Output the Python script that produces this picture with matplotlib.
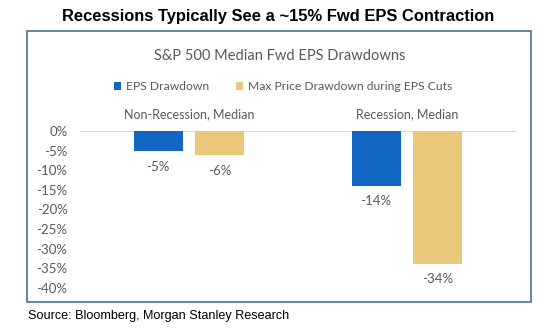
import matplotlib
matplotlib.use("Agg")
import matplotlib.pyplot as plt
from matplotlib.patches import Rectangle
import numpy as np

categories = ["Non-Recession, Median", "Recession, Median"]
series_names = ["EPS Drawdown", "Max Price Drawdown during EPS Cuts"]
eps_drawdown = [-5.2, -14.0]
max_price_drawdown = [-6.2, -33.8]
yticks = [0, -5, -10, -15, -20, -25, -30, -35, -40]

BLUE = "#1267C4"
TAN = "#E9C77B"
GREY = "#595959"
BODY_FONT = ["Lato", "DejaVu Sans"]

W, H = 558, 331
fig = plt.figure(figsize=(W / 100, H / 100), dpi=100)
fig.patch.set_facecolor("white")


def fx(px):
    return px / W


def fy(py):
    return 1 - py / H


# framed panel around the chart
fig.patches.append(Rectangle((fx(27), fy(302)), fx(531) - fx(27), fy(31) - fy(302),
                             transform=fig.transFigure, fill=False,
                             edgecolor="#4F7FA6", linewidth=1.3))

fig.text(fx(278), fy(17), "Recessions Typically See a ~15% Fwd EPS Contraction",
         ha="center", va="center", fontsize=11.9, fontweight="bold",
         family=["Liberation Sans", "DejaVu Sans"], color="black")
fig.text(fx(280), fy(56), "S&P 500 Median Fwd EPS Drawdowns", ha="center", va="center",
         fontsize=10.5, family=BODY_FONT, color=GREY)
fig.text(fx(28), fy(316), "Source: Bloomberg, Morgan Stanley Research", ha="left",
         va="center", fontsize=9.1, family=["Liberation Sans", "DejaVu Sans"], color="black")

ax = fig.add_axes([fx(80), fy(288), fx(516) - fx(80), fy(131) - fy(288)])
x = np.arange(len(categories)) + 0.5
width = 0.225
offset = 0.142
b1 = ax.bar(x - offset, eps_drawdown, width, color=BLUE, label=series_names[0], zorder=2)
b2 = ax.bar(x + offset, max_price_drawdown, width, color=TAN, label=series_names[1], zorder=2)

for bars, vals in ((b1, eps_drawdown), (b2, max_price_drawdown)):
    for rect, v in zip(bars, vals):
        ax.annotate(f"{v:.0f}%", (rect.get_x() + rect.get_width() / 2, v),
                    xytext=(0, -11), textcoords="offset points", ha="center", va="center",
                    fontsize=9.5, family=BODY_FONT, color=GREY)

ax.set_xlim(0, 2)
ax.set_ylim(-40, 0)
ax.set_yticks(yticks)
ax.set_yticklabels([f"{t}%" for t in yticks], family=BODY_FONT, fontsize=9.5, color=GREY)
ax.set_xticks(x)
ax.set_xticklabels(categories, family=BODY_FONT, fontsize=9, color=GREY)
ax.xaxis.tick_top()
ax.tick_params(axis="x", length=0, pad=8)
ax.tick_params(axis="y", length=0, pad=9)
for s in ax.spines.values():
    s.set_visible(False)
ax.axhline(0, color="#D9D9D9", linewidth=0.8, zorder=1)

leg = fig.legend(handles=[b1, b2], loc="center", bbox_to_anchor=(fx(283), fy(87)), ncol=2,
                 frameon=False, prop={"family": BODY_FONT, "size": 8.7},
                 handlelength=0.6, handleheight=0.6, handletextpad=0.4, columnspacing=2.2)
for t in leg.get_texts():
    t.set_color(GREY)

fig.savefig("out.png", dpi=100)
